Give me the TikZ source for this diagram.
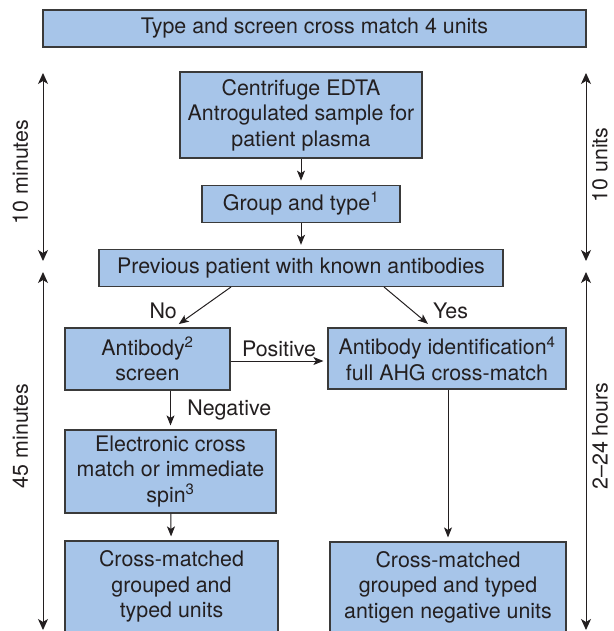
\documentclass[tikz,border=0pt]{standalone}
\usepackage{fontspec}
\setmainfont{TeX Gyre Heros}
\usetikzlibrary{arrows.meta, positioning}
\definecolor{boxBlue}{HTML}{A7C5E9}
\definecolor{boxEdge}{HTML}{3A3A3A}
\definecolor{inkGray}{HTML}{231F20}

\begin{document}
\begin{tikzpicture}[
    x=1pt, y=-1pt,
    node distance=26pt and 20pt,
    every node/.style={font=\fontsize{21.4}{25.5}\selectfont, text=inkGray},
    stage/.style={rectangle, fill=boxBlue, draw=boxEdge, line width=1.2pt,
                  align=center, inner sep=2pt},
    scale label/.style={rotate=90, inner sep=0.5pt},
    arrow/.style={-{Stealth[length=10pt, width=8pt, inset=2.5pt]}, line width=1pt,
                  color=inkGray, shorten >=4pt},
    timespan/.style={{Stealth[length=11pt, width=10pt, inset=3pt]}-{Stealth[length=11pt, width=10pt, inset=3pt]},
                     line width=1pt, color=inkGray}
]
\useasboundingbox (0,0) rectangle (613,631);

% flow boxes
\node[stage, minimum width=543pt, minimum height=37pt] (request) at (314.5,28.5) {Type and screen cross match 4 units};
\node[stage, minimum width=242pt, minimum height=86pt] (spin) at (301,115) {Centrifuge EDTA\\Antrogulated sample for\\patient plasma};
\node[stage, below=of spin, minimum width=198pt, minimum height=37pt] (group) {Group and type\textsuperscript{1}};
\node[stage, below=of group, minimum width=404pt, minimum height=37pt] (history) {Previous patient with known antibodies};
\node[stage, minimum width=165pt, minimum height=62pt] (screen) at (147.5,359) {Antibody\textsuperscript{2}\\screen};
\node[stage, minimum width=238pt, minimum height=61pt] (ident) at (447,358.5) {Antibody identification\textsuperscript{4}\\full AHG cross-match};
\node[stage, minimum width=211pt, minimum height=83pt] (xmatch) at (170.5,471.5) {Electronic cross\\match or immediate\\spin\textsuperscript{3}};
\node[stage, minimum width=213pt, minimum height=91pt] (unitsA) at (171.5,586.5) {Cross-matched\\grouped and\\typed units};
\node[stage, minimum width=236pt, minimum height=90pt] (unitsB) at (448,587) {Cross-matched\\grouped and typed\\antigen negative units};

% time scales
\node[scale label] (tenMin) at (20.5,172) {10 minutes};
\node[scale label] (fortyMin) at (20.5,436) {45 minutes};
\node[scale label] (tenUnits) at (600,165) {10 units};
\node[scale label] (dayHours) at (600,436) {2--24 hours};
\coordinate (minTop) at (43,73);
\coordinate (minMid) at (43,261);
\coordinate (minLow) at (43,272);
\coordinate (minEnd) at (43,630);
\coordinate (hrTop) at (586,73);
\coordinate (hrMid) at (586,261);
\coordinate (hrLow) at (586,272);
\coordinate (hrEnd) at (586,630);

\draw[timespan] (minTop) -- (minMid);
\draw[timespan] (minLow) -- (minEnd);
\draw[timespan] (hrTop) -- (hrMid);
\draw[timespan] (hrLow) -- (hrEnd);

% connectors
\draw[arrow] (spin) -- (group);
\draw[arrow] (group) -- (history);
\draw[arrow] ([xshift=-70pt]history.south) -- node[pos=0.6, left=17pt]{No} ([xshift=28pt, yshift=1pt]screen.north);
\draw[arrow] ([xshift=83pt]history.south) -- node[pos=0.6, right=17pt]{Yes} ([xshift=-16pt, yshift=1pt]ident.north);
\draw[arrow] ([yshift=-2pt]screen.east) -- node[above]{Positive} ([yshift=-2pt]screen.east -| ident.west);
\draw[arrow] (xmatch.north |- screen.south) -- node[right=13pt]{Negative} (xmatch.north);
\draw[arrow] (xmatch) -- (unitsA);
\draw[arrow] (ident.south -| unitsB.north) -- (unitsB.north);

\end{tikzpicture}
\end{document}
